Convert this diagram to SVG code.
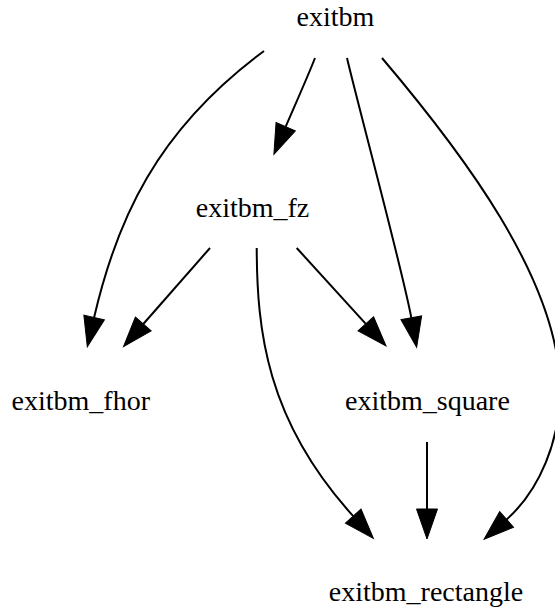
<svg xmlns="http://www.w3.org/2000/svg" width="555" height="610" viewBox="0 0 555 610">
  <style>
    .lbl { font-family: "Liberation Serif", "Times New Roman", serif; font-size: 28px; fill: #000; text-anchor: middle; }
    .edge { fill: none; stroke: #000; stroke-width: 2; marker-end: url(#arr); }
  </style>
  <defs>
    <marker id="arr" markerUnits="userSpaceOnUse" viewBox="0 -10.5 30 21" markerWidth="30" markerHeight="21" refX="0" refY="0" orient="auto" overflow="visible">
      <path d="M0,-10.5 L30,0 L0,10.5 Z" fill="#000" stroke="#000" stroke-width="1"/>
    </marker>
  </defs>
  <rect width="555" height="610" fill="#fff"/>
  <g id="edges">
    <path class="edge" d="M264,51 C156,131 116.7,220 94.1,317.5"/>
    <path class="edge" d="M315,58 C308,76 295,105 285.7,126.7"/>
    <path class="edge" d="M347,58 C358,105 403,272 411.3,317.8"/>
    <path class="edge" d="M382,58 C460,150 560,280 560,390 C560,440 540,490 506.6,519.4"/>
    <path class="edge" d="M210,248 L143.3,324"/>
    <path class="edge" d="M296.7,248 L365.8,323.8"/>
    <path class="edge" d="M256.7,248 C257,330 266,420 353.2,516.1"/>
    <path class="edge" d="M427,442 L427,509"/>
  </g>
  <g id="exitbm"><text class="lbl" x="335.5" y="26">exitbm</text></g>
  <g id="exitbm_fz"><text class="lbl" x="252.5" y="217">exitbm_fz</text></g>
  <g id="exitbm_fhor"><text class="lbl" x="80.8" y="410">exitbm_fhor</text></g>
  <g id="exitbm_square"><text class="lbl" x="427.4" y="410">exitbm_square</text></g>
  <g id="exitbm_rectangle"><text class="lbl" x="426" y="601">exitbm_rectangle</text></g>
</svg>
